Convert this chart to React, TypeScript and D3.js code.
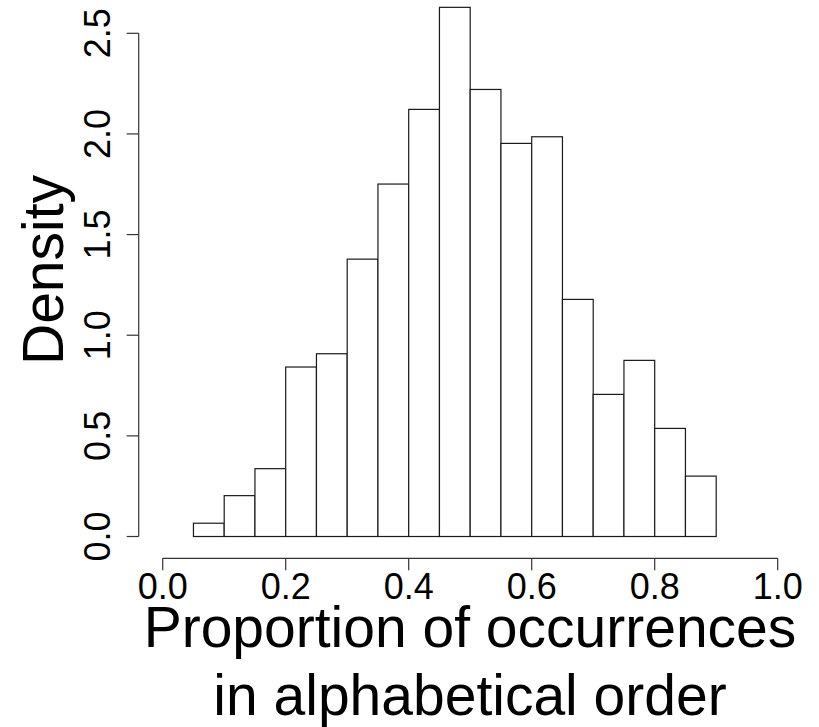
import React from 'react';
import * as d3 from 'd3';

// constants
const width = 819;
const height = 727;
const font = 'Arial, "Liberation Sans", sans-serif';

// histogram data
const binEdges = [0.05, 0.1, 0.15, 0.2, 0.25, 0.3, 0.35, 0.4, 0.45, 0.5, 0.55, 0.6, 0.65, 0.7, 0.75, 0.8, 0.85, 0.9];
const densities = [0.066, 0.203, 0.337, 0.842, 0.908, 1.378, 1.751, 2.122, 2.629, 2.221, 1.953, 1.986, 1.178, 0.706, 0.875, 0.537, 0.3];
const xTicks = [0, 0.2, 0.4, 0.6, 0.8, 1.0];
const yTicks = [0, 0.5, 1.0, 1.5, 2.0, 2.5];
const xTitle = ['Proportion of occurrences', 'in alphabetical order'];
const yTitle = 'Density';

const App = () => {
  // scales
  const x = d3.scaleLinear().domain([0, 1]).range([162.7, 777.7]);
  const y = d3.scaleLinear().domain([0, 2.5]).range([536.5, 33.3]);

  const bins = densities.map((d, i) => ({ x0: binEdges[i], x1: binEdges[i + 1], d }));

  const xAxisY = 558.3;
  const yAxisX = 138.7;
  const tick = 12;

  return (
    <svg width={width} height={height} style={{ position: 'absolute', left: 0, top: 0, background: '#fff' }}>
      {/* bars */}
      <g>
        {bins.map((b, i) => (
          <rect key={i}
            x={x(b.x0)} y={y(b.d)}
            width={x(b.x1) - x(b.x0)} height={y(0) - y(b.d)}
            fill="#fff" stroke="#1a1a1a" strokeWidth={1.2} />
        ))}
      </g>

      {/* x axis */}
      <g fontFamily={font} fontSize={36} fill="#000">
        <line x1={x(xTicks[0])} x2={x(xTicks[xTicks.length - 1])} y1={xAxisY} y2={xAxisY} stroke="#333" strokeWidth={1.2} />
        {xTicks.map(t => (
          <g key={t}>
            <line x1={x(t)} x2={x(t)} y1={xAxisY} y2={xAxisY + tick} stroke="#333" strokeWidth={1.2} />
            <text x={x(t)} y={599.3} textAnchor="middle">{t.toFixed(1)}</text>
          </g>
        ))}
      </g>

      {/* y axis */}
      <g fontFamily={font} fontSize={36} fill="#000">
        <line x1={yAxisX} x2={yAxisX} y1={y(yTicks[0])} y2={y(yTicks[yTicks.length - 1])} stroke="#333" strokeWidth={1.2} />
        {yTicks.map(t => (
          <g key={t}>
            <line x1={yAxisX - tick} x2={yAxisX} y1={y(t)} y2={y(t)} stroke="#333" strokeWidth={1.2} />
            <text transform={`translate(110,${y(t)}) rotate(-90)`} textAnchor="middle">{t.toFixed(1)}</text>
          </g>
        ))}
      </g>

      {/* titles */}
      <g fontFamily={font} fontSize={57} fill="#000" textAnchor="middle">
        <text x={470} y={647.3}>{xTitle[0]}</text>
        <text x={470} y={715}>{xTitle[1]}</text>
        <text transform={`translate(63,270) rotate(-90)`}>{yTitle}</text>
      </g>
    </svg>
  );
};

export default App;
